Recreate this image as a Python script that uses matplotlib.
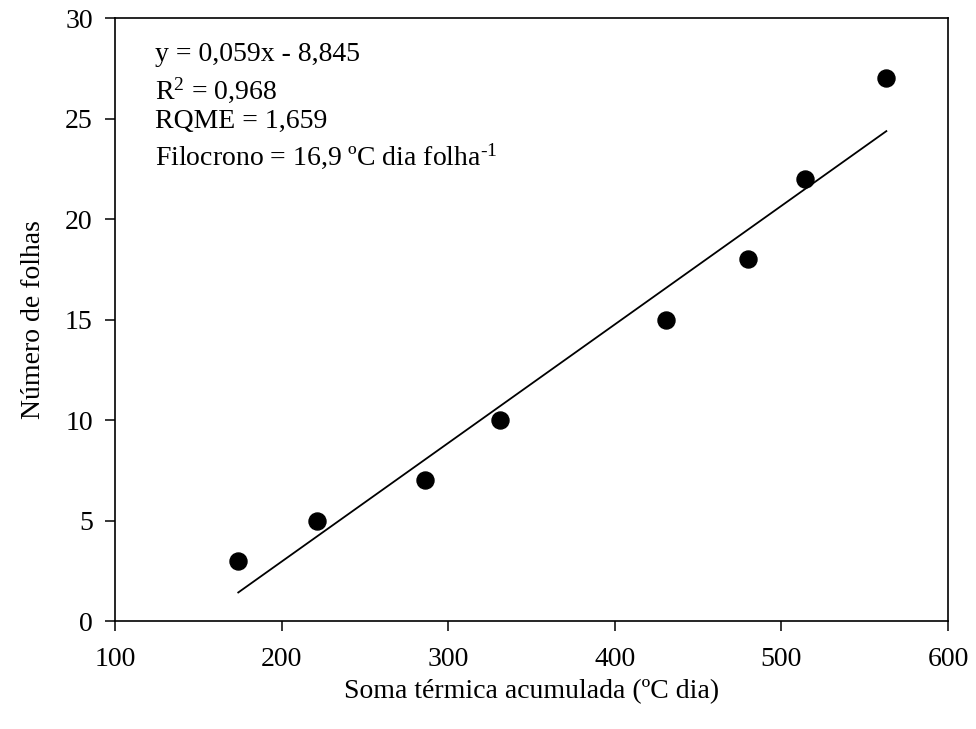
import matplotlib
matplotlib.use("Agg")
import matplotlib.pyplot as plt
import numpy as np

plt.rcParams['font.family'] = ['Liberation Serif', 'DejaVu Serif']
plt.rcParams['mathtext.fontset'] = 'custom'
plt.rcParams['mathtext.rm'] = 'Liberation Serif'
plt.rcParams['mathtext.it'] = 'Liberation Serif:italic'

soma_termica = [174, 221, 286, 331, 431, 480, 514, 563]
num_folhas = [3, 5, 7, 10, 15, 18, 22, 27]
slope = 0.059
intercept = -8.845
x_ticks = [100, 200, 300, 400, 500, 600]
y_ticks = [0, 5, 10, 15, 20, 25, 30]
annot_lines = ["y = 0,059x - 8,845", "R$^2$ = 0,968", "RQME = 1,659",
               "Filocrono = 16,9 ºC dia folha$^{\\text{-1}}$"]

fig = plt.figure(figsize=(9.76, 7.29), dpi=100)
ax = fig.add_axes([0.1178, 0.1481, 0.8535, 0.8272])

xs = np.array([min(soma_termica), max(soma_termica)])
ax.plot(xs, slope * xs + intercept, color='black', lw=1.3)
ax.scatter(soma_termica, num_folhas, s=150, color='black', zorder=3)

ax.set_xlim(100, 600)
ax.set_ylim(0, 30)
ax.set_xticks(x_ticks)
ax.set_yticks(y_ticks)
ax.tick_params(direction='out', length=7, width=1.1, labelsize=20)
ax.tick_params(axis='x', pad=12)
ax.tick_params(axis='y', pad=9)
for s in ax.spines.values():
    s.set_linewidth(1.2)

ax.set_xlabel("Soma térmica acumulada (ºC dia)", fontsize=20, labelpad=5)
ax.set_ylabel("Número de folhas", fontsize=20, labelpad=14)

ys = [0.94, 0.881, 0.828, 0.771]
for t, yy in zip(annot_lines, ys):
    ax.text(0.048, yy, t, transform=ax.transAxes, fontsize=20, va='center', ha='left')

fig.savefig("out.png", dpi=100)
